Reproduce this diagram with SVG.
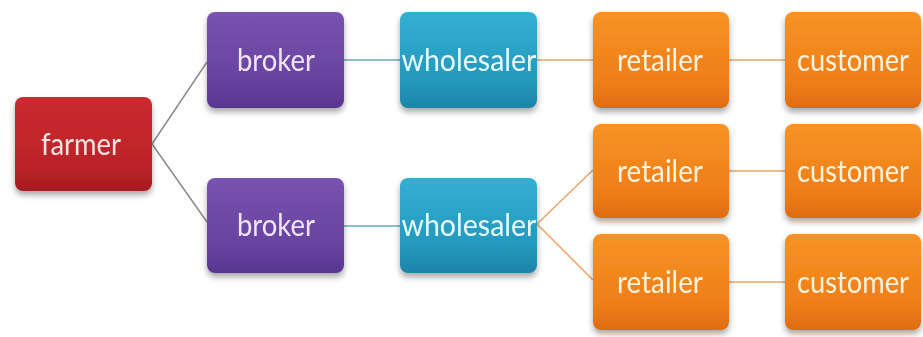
<svg xmlns="http://www.w3.org/2000/svg" width="923" height="337" viewBox="0 0 923 337">
<defs>
<linearGradient id="gRed" x1="0" y1="0" x2="0" y2="1">
<stop offset="0" stop-color="#cb2a30"/><stop offset="0.75" stop-color="#bb2328"/><stop offset="1" stop-color="#a31d21"/>
</linearGradient>
<linearGradient id="gPur" x1="0" y1="0" x2="0" y2="1">
<stop offset="0" stop-color="#7a52b0"/><stop offset="0.75" stop-color="#65429e"/><stop offset="1" stop-color="#573690"/>
</linearGradient>
<linearGradient id="gBlu" x1="0" y1="0" x2="0" y2="1">
<stop offset="0" stop-color="#33b0d2"/><stop offset="0.75" stop-color="#2497bb"/><stop offset="1" stop-color="#1c84a8"/>
</linearGradient>
<linearGradient id="gOra" x1="0" y1="0" x2="0" y2="1">
<stop offset="0" stop-color="#f79326"/><stop offset="0.75" stop-color="#ee7d18"/><stop offset="1" stop-color="#de6c10"/>
</linearGradient>
<filter id="sh" x="-10%" y="-10%" width="120%" height="135%">
<feGaussianBlur in="SourceAlpha" stdDeviation="3"/>
<feOffset dy="4" result="b"/>
<feComponentTransfer><feFuncA type="linear" slope="0.35"/></feComponentTransfer>
<feMerge><feMergeNode/><feMergeNode in="SourceGraphic"/></feMerge>
</filter>
</defs>
<style>
.box{filter:url(#sh)}
.t{font-family:Lato,"Open Sans",sans-serif;font-size:30px;text-anchor:middle}
.red{fill:url(#gRed)} .pur{fill:url(#gPur)} .blu{fill:url(#gBlu)} .ora{fill:url(#gOra)}
.tr{fill:#fbe3e3} .tp{fill:#efe4fb} .tb{fill:#e6fbff} .to{fill:#fff3dc}
.c{fill:none;stroke-width:1.5}
.cg{stroke:#8a8a8a} .cb{stroke:#6aa9b3} .co{stroke:#e9a56a}
</style>
<rect width="923" height="337" fill="#ffffff"/>
<g id="connectors">
<line class="c cg" x1="152" y1="144" x2="207" y2="62"/>
<line class="c cg" x1="152" y1="144" x2="207" y2="222"/>
<line class="c cb" x1="344" y1="60" x2="400" y2="60"/>
<line class="c cb" x1="344" y1="226" x2="400" y2="226"/>
<line class="c co" x1="537" y1="60" x2="593" y2="60"/>
<line class="c co" x1="537" y1="224" x2="593" y2="170"/>
<line class="c co" x1="537" y1="224" x2="593" y2="280"/>
<line class="c co" x1="729" y1="60" x2="785" y2="60"/>
<line class="c co" x1="729" y1="171" x2="785" y2="171"/>
<line class="c co" x1="729" y1="282" x2="785" y2="282"/>
</g>
<g id="farmer" class="box"><rect class="red" x="15" y="97" width="137" height="94" rx="8"/><text class="t tr" x="81" y="155" textLength="80" lengthAdjust="spacingAndGlyphs">farmer</text></g>
<g id="broker1" class="box"><rect class="pur" x="207" y="12" width="137" height="96" rx="8"/><text class="t tp" x="276" y="71" textLength="78" lengthAdjust="spacingAndGlyphs">broker</text></g>
<g id="broker2" class="box"><rect class="pur" x="207" y="178" width="137" height="95" rx="8"/><text class="t tp" x="276" y="236" textLength="78" lengthAdjust="spacingAndGlyphs">broker</text></g>
<g id="wholesaler1" class="box"><rect class="blu" x="400" y="12" width="137" height="96" rx="8"/><text class="t tb" x="469" y="71" textLength="135" lengthAdjust="spacingAndGlyphs">wholesaler</text></g>
<g id="wholesaler2" class="box"><rect class="blu" x="400" y="178" width="137" height="95" rx="8"/><text class="t tb" x="469" y="236" textLength="135" lengthAdjust="spacingAndGlyphs">wholesaler</text></g>
<g id="retailer1" class="box"><rect class="ora" x="593" y="12" width="136" height="96" rx="8"/><text class="t to" x="660" y="71" textLength="86" lengthAdjust="spacingAndGlyphs">retailer</text></g>
<g id="retailer2" class="box"><rect class="ora" x="593" y="124" width="136" height="94" rx="8"/><text class="t to" x="660" y="182" textLength="86" lengthAdjust="spacingAndGlyphs">retailer</text></g>
<g id="retailer3" class="box"><rect class="ora" x="593" y="234" width="136" height="96" rx="8"/><text class="t to" x="660" y="293" textLength="86" lengthAdjust="spacingAndGlyphs">retailer</text></g>
<g id="customer1" class="box"><rect class="ora" x="785" y="12" width="136" height="96" rx="8"/><text class="t to" x="853" y="71" textLength="112" lengthAdjust="spacingAndGlyphs">customer</text></g>
<g id="customer2" class="box"><rect class="ora" x="785" y="124" width="136" height="94" rx="8"/><text class="t to" x="853" y="182" textLength="112" lengthAdjust="spacingAndGlyphs">customer</text></g>
<g id="customer3" class="box"><rect class="ora" x="785" y="234" width="136" height="96" rx="8"/><text class="t to" x="853" y="293" textLength="112" lengthAdjust="spacingAndGlyphs">customer</text></g>
</svg>
